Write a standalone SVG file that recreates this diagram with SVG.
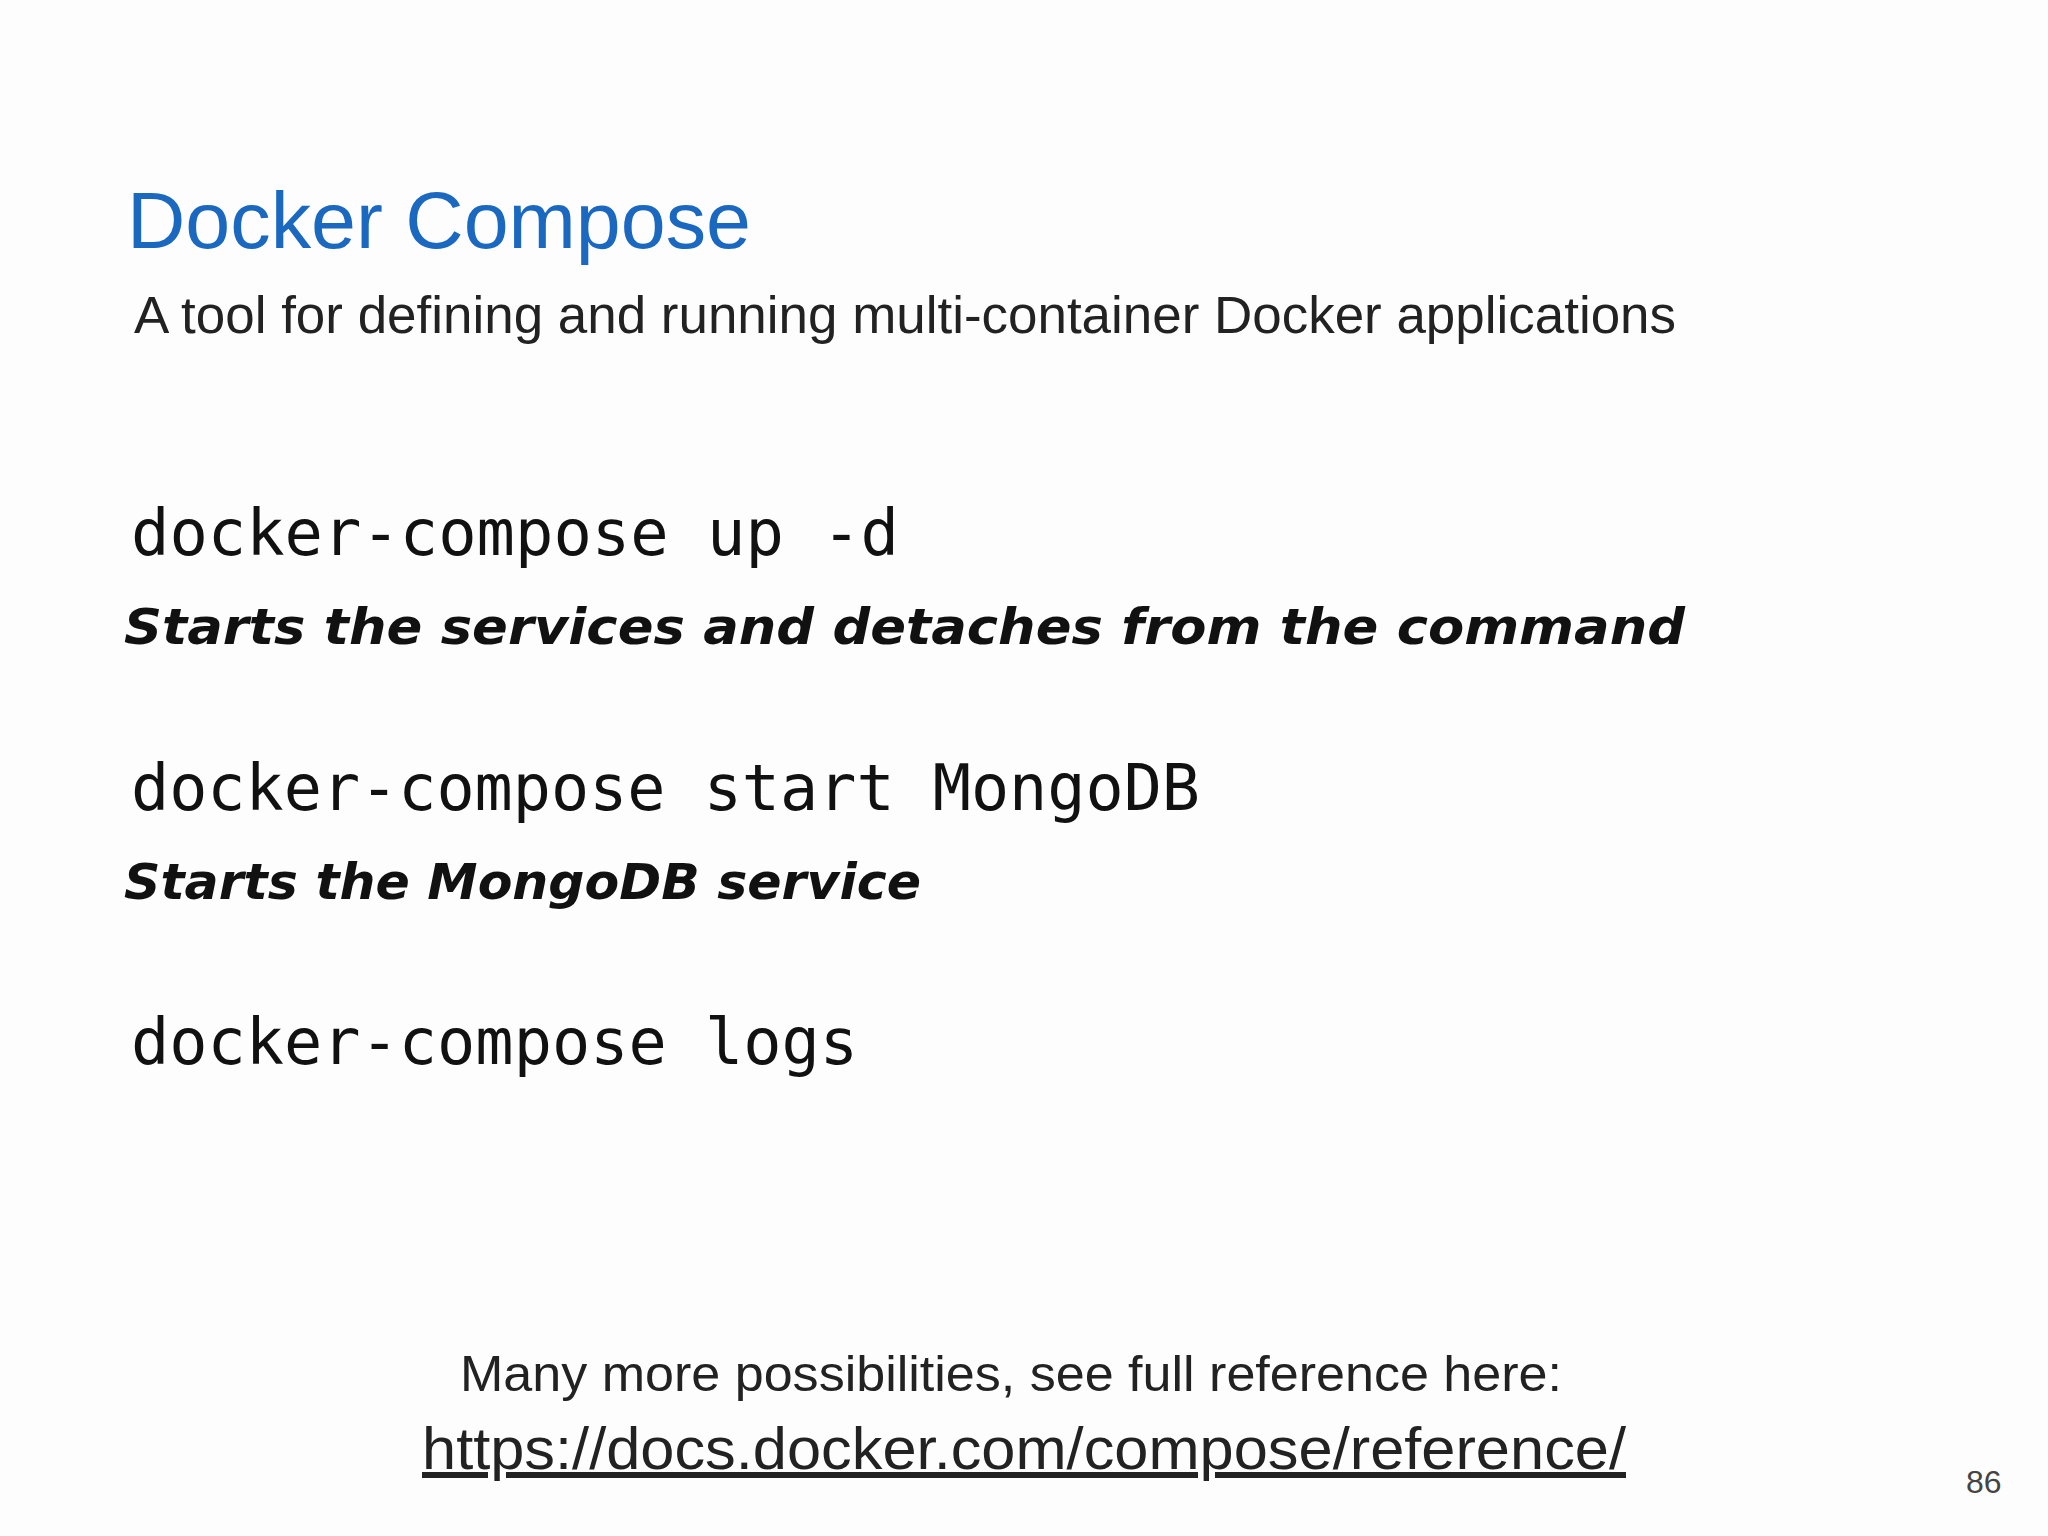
<svg xmlns="http://www.w3.org/2000/svg" width="2048" height="1536" viewBox="0 0 2048 1536">
<style>
.code{font-family:"DejaVu Sans Mono","Liberation Mono",monospace;font-size:64px;fill:#111}
.hand{font-family:"DejaVu Sans",sans-serif;font-weight:bold;font-style:italic;font-size:50px;fill:#111}
.sans{font-family:"Liberation Sans","Helvetica",sans-serif;fill:#222}
</style>
<rect width="2048" height="1536" fill="#fdfdfd"/>
<g id="title"><text class="sans" x="127" y="248" font-size="80" style="fill:#1a68c0" textLength="624" lengthAdjust="spacingAndGlyphs">Docker Compose</text></g>
<g id="subtitle"><text class="sans" x="134" y="333" font-size="51" textLength="1542" lengthAdjust="spacingAndGlyphs">A tool for defining and running multi-container Docker applications</text></g>
<g id="cmd1"><text class="code" x="131" y="555" textLength="768" lengthAdjust="spacingAndGlyphs">docker-compose up -d</text>
<text class="hand" x="124" y="644" textLength="1561" lengthAdjust="spacingAndGlyphs">Starts the services and detaches from the command</text></g>
<g id="cmd2"><text class="code" x="131" y="810" textLength="1069" lengthAdjust="spacingAndGlyphs">docker-compose start MongoDB</text>
<text class="hand" x="124" y="899" textLength="797" lengthAdjust="spacingAndGlyphs">Starts the MongoDB service</text></g>
<g id="cmd3"><text class="code" x="131" y="1064" textLength="727" lengthAdjust="spacingAndGlyphs">docker-compose logs</text></g>
<g id="footer"><text class="sans" x="460" y="1391" font-size="50" textLength="1102" lengthAdjust="spacingAndGlyphs">Many more possibilities, see full reference here:</text>
<text class="sans" x="422" y="1469" font-size="60" text-decoration="underline" textLength="1204" lengthAdjust="spacingAndGlyphs">https://docs.docker.com/compose/reference/</text>
<text class="sans" x="1966" y="1493" font-size="32" style="fill:#444">86</text></g>
</svg>
